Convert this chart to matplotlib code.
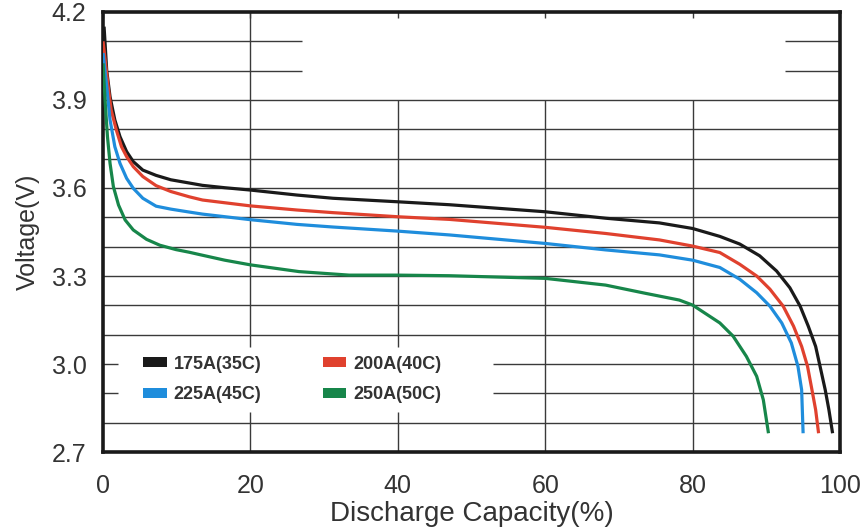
import matplotlib.pyplot as plt
from matplotlib.patches import Patch

plt.rcParams['font.family'] = ['Liberation Sans', 'DejaVu Sans']

# discharge curves: capacity (%) and voltage (V)
cap_175 = [0.14, 0.5, 0.95, 1.6, 2.3, 3.2, 4.1, 5.4, 7.2, 9.2, 11.7, 13.5, 16.5, 20,
           26.3, 31.2, 40, 47, 60, 68.2, 75.5, 80, 83.7, 86.4, 89.1, 91.4, 93.2,
           94.6, 95.7, 96.7, 97.3, 98.0, 98.5, 99.0]
volt_175 = [4.15, 4.0, 3.911, 3.832, 3.775, 3.724, 3.69, 3.661, 3.643, 3.628, 3.617,
            3.609, 3.601, 3.593, 3.576, 3.565, 3.553, 3.543, 3.519, 3.497, 3.481,
            3.462, 3.435, 3.409, 3.369, 3.317, 3.26, 3.197, 3.129, 3.06, 2.992,
            2.912, 2.844, 2.764]

cap_200 = [0.0, 0.7, 1.1, 1.8, 2.5, 3.2, 4.1, 5.4, 7.2, 9.2, 11.7, 13.5, 20, 26.3,
           31.2, 40, 47, 60, 68.2, 75.5, 80, 83.7, 86.4, 88.7, 90.5, 92.3, 93.7,
           94.8, 95.6, 96.2, 96.7, 97.1]
volt_200 = [4.10, 3.945, 3.866, 3.798, 3.741, 3.707, 3.673, 3.639, 3.608, 3.588,
            3.570, 3.559, 3.539, 3.525, 3.516, 3.502, 3.493, 3.466, 3.445, 3.423,
            3.402, 3.38, 3.34, 3.30, 3.255, 3.197, 3.129, 3.06, 2.992, 2.912,
            2.844, 2.764]

cap_225 = [0.0, 0.5, 0.95, 1.6, 2.3, 3.2, 4.1, 5.4, 7.2, 9.2, 11.7, 13.5, 20, 26.3,
           31.2, 40, 47, 60, 68.2, 75.5, 80, 83.7, 86.4, 88.7, 90.5, 92.1, 93.4,
           94.3, 94.8, 95.0]
volt_225 = [4.06, 3.945, 3.832, 3.741, 3.684, 3.633, 3.599, 3.565, 3.538, 3.528,
            3.518, 3.511, 3.492, 3.476, 3.467, 3.453, 3.440, 3.411, 3.389, 3.372,
            3.354, 3.329, 3.289, 3.243, 3.197, 3.14, 3.072, 2.992, 2.912, 2.764]

cap_250 = [0.0, 0.3, 0.6, 0.95, 1.4, 2.1, 3.0, 4.1, 5.9, 7.7, 9.9, 11.7, 13.1, 16.5,
           20, 26.6, 33.4, 40, 47, 60, 68.2, 73.6, 78.2, 80, 83.7, 85.5, 87.3, 88.7,
           89.6, 90.3]
volt_250 = [4.025, 3.889, 3.775, 3.684, 3.605, 3.542, 3.491, 3.457, 3.425, 3.405,
            3.39, 3.381, 3.373, 3.354, 3.338, 3.315, 3.303, 3.303, 3.301, 3.292,
            3.269, 3.241, 3.218, 3.201, 3.14, 3.095, 3.026, 2.958, 2.878, 2.764]

labels = ['175A(35C)', '200A(40C)', '225A(45C)', '250A(50C)']
colors = ['#1a1a1a', '#e0412e', '#1f8ddc', '#17864a']

x_ticks = [0, 20, 40, 60, 80, 100]
y_ticks = [2.7, 3.0, 3.3, 3.6, 3.9, 4.2]

fig = plt.figure(figsize=(8.63, 5.28), dpi=100)
ax = fig.add_axes([0.1194, 0.1439, 0.8539, 0.8334])
ax.set_xlim(0, 100)
ax.set_ylim(2.7, 4.2)

# grid, with the blank areas of the original (top box and legend box)
gc = '#3a3a3a'
glw = 1.0
for i in range(1, 15):
    v = round(2.7 + i * 0.1, 1)
    if v in (4.1, 4.0):
        ax.hlines(v, 0, 27.0, color=gc, lw=glw)
        ax.hlines(v, 92.5, 100, color=gc, lw=glw)
    elif v in (3.0, 2.9):
        ax.hlines(v, 0, 2.0, color=gc, lw=glw)
        ax.hlines(v, 52.9, 100, color=gc, lw=glw)
    else:
        ax.hlines(v, 0, 100, color=gc, lw=glw)

for xv in [20, 40, 60, 80]:
    top = 4.2 if xv == 20 else 3.9
    if xv in (20, 40):
        ax.vlines(xv, 3.058, top, color=gc, lw=glw)
        ax.vlines(xv, 2.7, 2.836, color=gc, lw=glw)
    else:
        ax.vlines(xv, 2.7, top, color=gc, lw=glw)

curves = [(cap_175, volt_175), (cap_200, volt_200), (cap_225, volt_225), (cap_250, volt_250)]
for (cx, cy), c in zip(curves, colors):
    ax.plot(cx, cy, color=c, lw=2.3, solid_capstyle='butt', solid_joinstyle='round', zorder=3)

for s in ax.spines.values():
    s.set_linewidth(2.6)
    s.set_color('#1a1a1a')

ax.set_xticks(x_ticks)
ax.set_yticks(y_ticks)
ax.set_yticklabels(['%.1f' % v for v in y_ticks])
ax.tick_params(axis='x', top=True, bottom=False, direction='in', length=4,
               width=1.0, color=gc, pad=16, labelsize=18, labelcolor='#333333')
ax.tick_params(axis='y', length=0, pad=12, labelsize=18, labelcolor='#333333')

ax.set_xlabel('Discharge Capacity(%)', fontsize=20, color='#333333', labelpad=2)
ax.set_ylabel('Voltage(V)', fontsize=18, color='#333333', labelpad=8)

# legend fills column by column, so order entries to get rows 175/200 and 225/250
order = [0, 2, 1, 3]
handles = [Patch(facecolor=colors[i], edgecolor='none') for i in order]
leg = ax.legend(handles, [labels[i] for i in order], ncol=2, loc='center',
                bbox_to_anchor=(0.257, 0.165), frameon=False,
                prop={'weight': 'bold', 'size': 13},
                handlelength=1.3, handleheight=0.45, handletextpad=0.4,
                columnspacing=3.4, labelspacing=0.75)
for t in leg.get_texts():
    t.set_color('#333333')

fig.savefig('out.png', dpi=100)
